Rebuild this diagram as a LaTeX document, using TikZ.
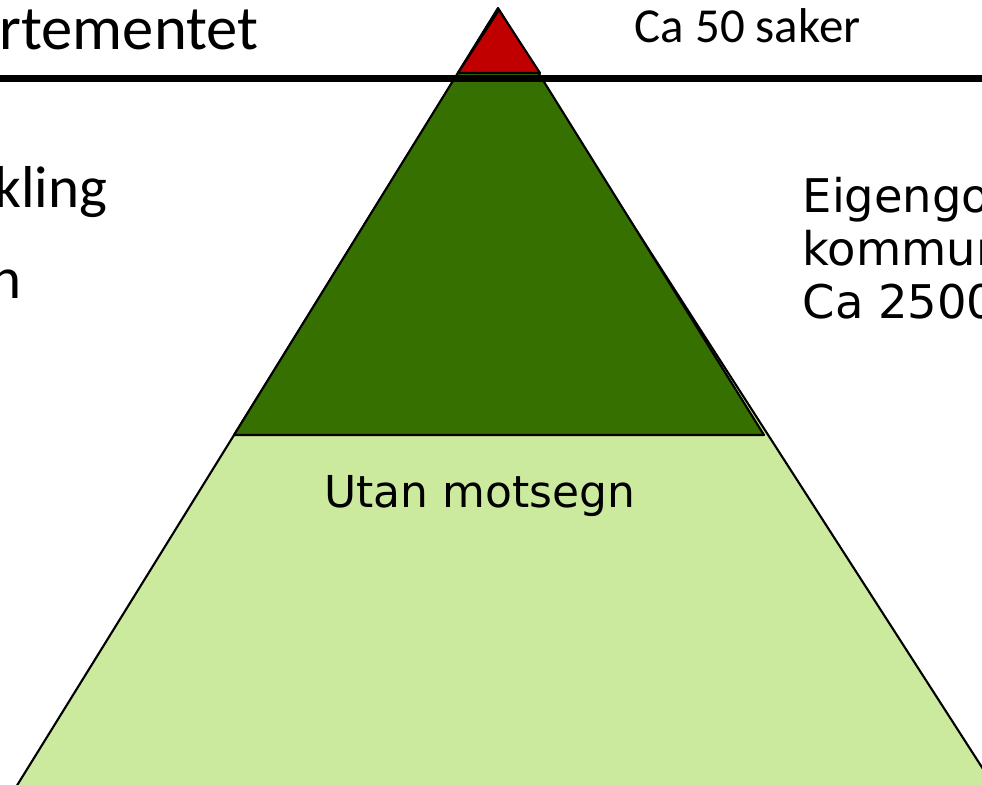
\documentclass[tikz,border=0pt]{standalone}
\usepackage{fontspec}
\setmainfont{DejaVu Sans}
\newfontfamily\calfont{Carlito}
\definecolor{lowgreen}{RGB}{203,234,157}
\definecolor{midgreen}{RGB}{54,112,0}
\definecolor{topred}{RGB}{192,0,0}

\begin{document}
\begin{tikzpicture}[x=0.01cm, y=-0.01cm,
		level/.style={draw=black, line width=0.6pt, line join=round}]
		\useasboundingbox (0,0) rectangle (982,784);
		\clip (0,0) rectangle (982,784);

		% pyramid, bottom to top
		\filldraw[level, fill=lowgreen] (496,12) -- (8,800) -- (1003,800) -- cycle;
		\filldraw[level, fill=midgreen] (498,8) -- (234,435) -- (764,435) -- cycle;
		\filldraw[level, fill=topred] (499,10) -- (458,73) -- (540,73) -- cycle;

		% dividing line
		\coordinate (lineL) at (0,78.5);
		\coordinate (lineR) at (982,78.5);
		\draw[line width=2pt] (lineL) -- (lineR);

		% texts
		\node[anchor=base east, inner sep=0pt, font=\calfont\fontsize{17.8}{20}\selectfont] (dept) at (259,49) {rtementet};
		\node[anchor=base west, inner sep=0pt, font=\calfont\fontsize{13.9}{16}\selectfont] (top) at (634,42) {Ca 50 saker};
		\node[anchor=base east, inner sep=0pt, font=\calfont\fontsize{16.8}{18}\selectfont] (left1) at (108,207) {kling};
		\node[anchor=base east, inner sep=0pt, font=\calfont\fontsize{16.8}{18}\selectfont] (left2) at (22,298) {n};
		\node[anchor=base, inner sep=0pt, font=\fontsize{12.5}{15}\selectfont] (mid) at (480,507) {Utan motsegn};
		\node[anchor=base west, inner sep=0pt, font=\fontsize{13.2}{15}\selectfont] (side1) at (802,212) {Eigengo};
		\node[anchor=base west, inner sep=0pt, font=\fontsize{13.2}{15}\selectfont] (side2) at (802,265) {kommun};
		\node[anchor=base west, inner sep=0pt, font=\fontsize{13.2}{15}\selectfont] (side3) at (802,318) {Ca 2500};

\end{tikzpicture}
\end{document}
